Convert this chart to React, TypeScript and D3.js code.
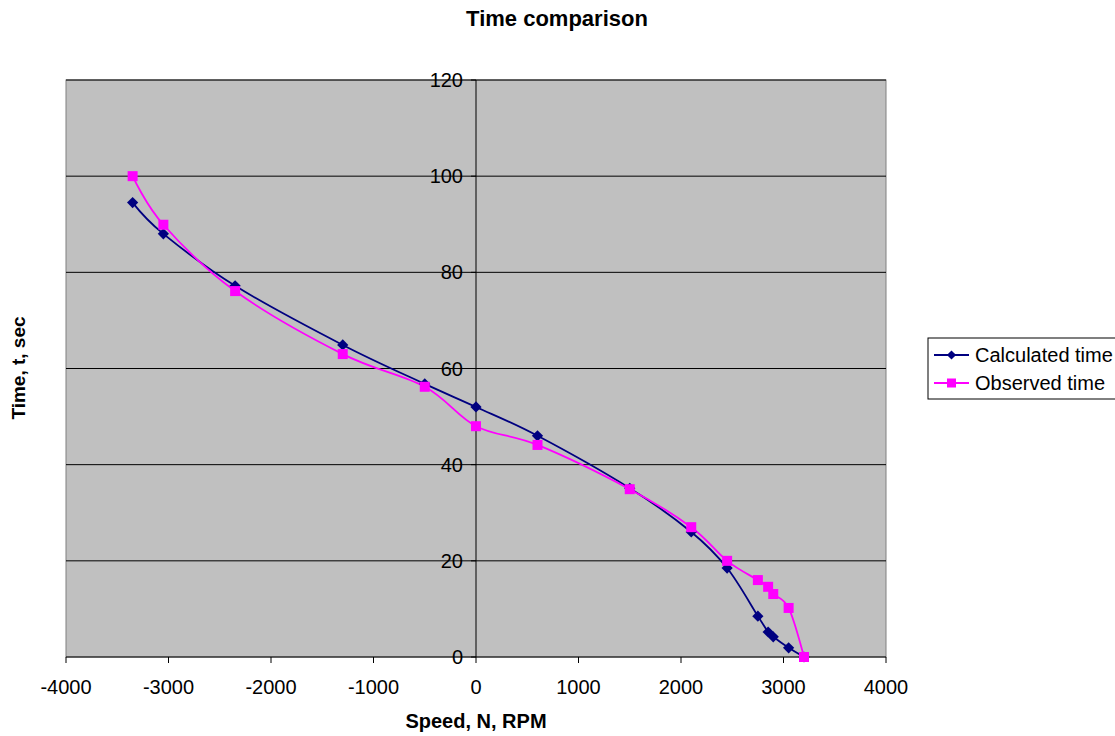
import React from "react";
import * as d3 from "d3";

const speeds = [-3350, -3050, -2350, -1300, -500, 0, 600, 1500, 2100, 2450, 2750, 2850, 2900, 3050, 3200];
const calculatedTime = [94.5, 88, 77.2, 64.9, 56.8, 52, 46, 35.1, 26, 18.5, 8.5, 5.2, 4.2, 1.9, 0];
const observedTime = [100, 89.9, 76.1, 63, 56.2, 48, 44.1, 34.9, 27, 20, 16, 14.6, 13.1, 10.2, 0];
const xTicks = [-4000, -3000, -2000, -1000, 0, 1000, 2000, 3000, 4000];
const yTicks = [0, 20, 40, 60, 80, 100, 120];
const seriesNames = ["Calculated time", "Observed time"];
const seriesColors = ["#000080", "#FF00FF"];

export default function App() {
  const W = 1115, H = 736;
  const left = 66, right = 886, top = 80, bottom = 657;
  const x = d3.scaleLinear().domain([-4000, 4000]).range([left, right]);
  const y = d3.scaleLinear().domain([0, 120]).range([bottom, top]);
  const line = d3.line<[number, number]>().x(d => x(d[0])).y(d => y(d[1])).curve(d3.curveCardinal.tension(0));
  const calc: [number, number][] = speeds.map((s, i) => [s, calculatedTime[i]]);
  const obs: [number, number][] = speeds.map((s, i) => [s, observedTime[i]]);
  const font = "Arial, 'Liberation Sans', sans-serif";
  const diamond = (cx: number, cy: number, r = 5.6) => `M${cx},${cy - r}L${cx + r},${cy}L${cx},${cy + r}L${cx - r},${cy}Z`;
  const x0 = x(0);
  return (
    <svg width={W} height={H} style={{ position: "absolute", left: 0, top: 0 }} fontFamily={font}>
      <rect x={0} y={0} width={W} height={H} fill="#fff" />
      <text x={557} y={26} textAnchor="middle" fontSize={22} fontWeight="bold">Time comparison</text>
      <rect x={left} y={top} width={right - left} height={bottom - top} fill="#C0C0C0" stroke="#808080" strokeWidth={1} />
      {yTicks.filter(t => t > 0).map(t => (
        <line key={t} x1={left} x2={right} y1={y(t)} y2={y(t)} stroke="#000" strokeWidth={1} />
      ))}
      <line x1={x0} x2={x0} y1={top} y2={bottom} stroke="#000" strokeWidth={1} />
      {yTicks.map(t => (
        <g key={t}>
          <line x1={x0 - 5} x2={x0} y1={y(t)} y2={y(t)} stroke="#000" />
          <text x={x0 - 13} y={y(t) + 7} textAnchor="end" fontSize={20}>{t}</text>
        </g>
      ))}
      <line x1={left} x2={right} y1={bottom} y2={bottom} stroke="#000" />
      {xTicks.map(t => (
        <g key={t}>
          <line x1={x(t)} x2={x(t)} y1={bottom} y2={bottom + 6} stroke="#000" />
          <text x={x(t)} y={bottom + 37} textAnchor="middle" fontSize={20}>{t}</text>
        </g>
      ))}
      <path d={line(calc) || ""} fill="none" stroke={seriesColors[0]} strokeWidth={1.8} />
      <path d={line(obs) || ""} fill="none" stroke={seriesColors[1]} strokeWidth={1.8} />
      {calc.map((d, i) => (
        <path key={"c" + i} d={diamond(x(d[0]), y(d[1]))} fill={seriesColors[0]} />
      ))}
      {obs.map((d, i) => (
        <rect key={"o" + i} x={x(d[0]) - 5} y={y(d[1]) - 5} width={10} height={10} fill={seriesColors[1]} />
      ))}
      <text x={476} y={728} textAnchor="middle" fontSize={20} fontWeight="bold">Speed, N, RPM</text>
      <text transform={`translate(25,368) rotate(-90)`} textAnchor="middle" fontSize={19} fontWeight="bold">Time, t, sec</text>
      <rect x={928} y={338} width={200} height={61} fill="#fff" stroke="#000" strokeWidth={1} />
      {seriesNames.map((n, i) => {
        const ly = 355 + i * 28;
        return (
          <g key={n}>
            <line x1={934} x2={969} y1={ly} y2={ly} stroke={seriesColors[i]} strokeWidth={1.8} />
            {i === 0 ? <path d={diamond(951.5, ly, 4.6)} fill={seriesColors[0]} /> : <rect x={947} y={ly - 4.5} width={9} height={9} fill={seriesColors[1]} />}
            <text x={975} y={ly + 7} fontSize={20}>{n}</text>
          </g>
        );
      })}
    </svg>
  );
}
